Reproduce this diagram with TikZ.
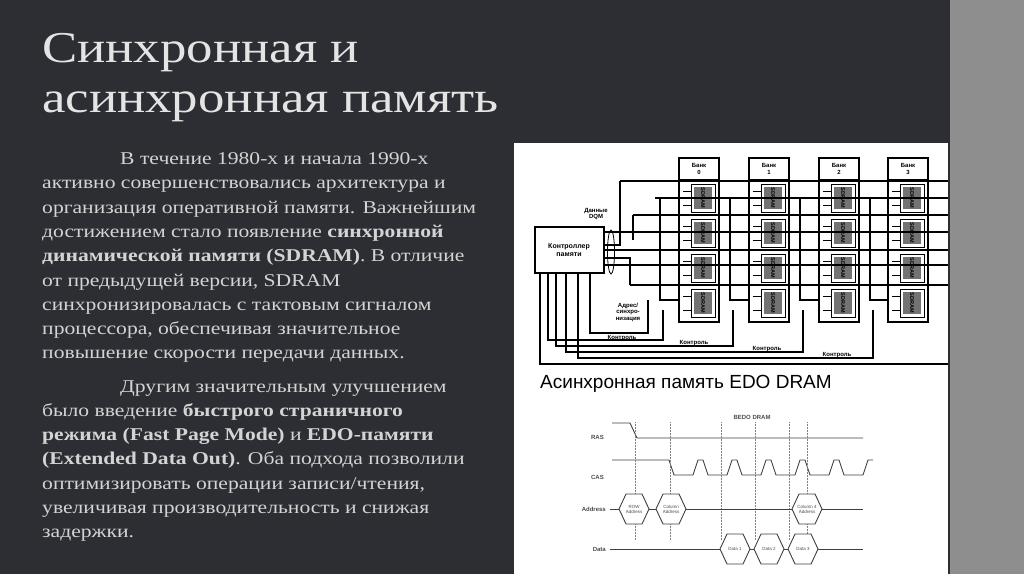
\documentclass[tikz,border=0pt]{standalone}
\usepackage{fontspec}
\setmainfont[FakeStretch=1.2]{Liberation Serif}
\newfontfamily\diagfont{Liberation Sans}
\begin{document}
\begin{tikzpicture}[x=1pt,y=-1pt,
  bodytxt/.style={anchor=base west,inner sep=0,text=body,font=\fontsize{18}{20}\selectfont},
  titletxt/.style={anchor=base west,inner sep=0,text=titlec,font=\fontsize{44}{48}\selectfont},
  wire/.style={line width=1.3pt,black},
  tiny/.style={font=\diagfont\bfseries\fontsize{6}{6.5}\selectfont,inner sep=0,align=center},
  sig/.style={line width=0.9pt,black!75},
  guide/.style={densely dotted,gray,line width=0.5pt},
  hexa/.style={sig}]
\definecolor{bg}{HTML}{2D2E33}
\definecolor{side}{HTML}{8E8E8E}
\definecolor{body}{HTML}{D4D4D4}
\definecolor{titlec}{HTML}{E4E4E4}
\useasboundingbox (0,0) rectangle (1024,574);
\fill[bg] (0,0) rectangle (1024,574);
\fill[side] (950,0) rectangle (1024,574);
% title
\node[titletxt] (t1) at (42,62) {Синхронная и};
\node[titletxt] (t2) at (42,112) {асинхронная память};
% body
\node[bodytxt] (b1) at (120,164) {В течение 1980-х и начала 1990-х};
\node[bodytxt] (b2) at (42,188) {активно совершенствовались архитектура и};
\node[bodytxt] (b3) at (42,213) {организация оперативной памяти. Важнейшим};
\node[bodytxt] (b4) at (42,237) {достижением стало появление \textbf{синхронной}};
\node[bodytxt] (b5) at (42,261) {\textbf{динамической памяти (SDRAM)}. В отличие};
\node[bodytxt] (b6) at (42,286) {от предыдущей версии, SDRAM};
\node[bodytxt] (b7) at (42,310) {синхронизировалась с тактовым сигналом};
\node[bodytxt] (b8) at (42,334) {процессора, обеспечивая значительное};
\node[bodytxt] (b9) at (42,358) {повышение скорости передачи данных.};
\node[bodytxt] (c1) at (120,392) {Другим значительным улучшением};
\node[bodytxt] (c2) at (42,416) {было введение \textbf{быстрого страничного}};
\node[bodytxt] (c3) at (42,440) {\textbf{режима (Fast Page Mode)} и \textbf{EDO-памяти}};
\node[bodytxt] (c4) at (42,464) {\textbf{(Extended Data Out)}. Оба подхода позволили};
\node[bodytxt] (c5) at (42,489) {оптимизировать операции записи/чтения,};
\node[bodytxt] (c6) at (42,513) {увеличивая производительность и снижая};
\node[bodytxt] (c7) at (42,537) {задержки.};
% white picture
\fill[white] (514,143) rectangle (948,574);
% ---- bus diagram
\draw[wire] (535,227) rectangle (604,273);
\node[tiny,font=\diagfont\bfseries\fontsize{7}{8}\selectfont] (ctl) at (569,250) {Контроллер\\памяти};
\draw[line width=0.8pt] (611,252) ellipse (3.5 and 22);
\node[tiny] (dqm) at (596,214) {Данные\\DQM};
\node[tiny] (adr) at (628,312) {Адрес/\\синхро-\\низация};
\foreach \bx/\n in {679/0,749/1,819/2,888/3}{
  \draw[wire] (\bx,158) -- (\bx,322) -- (\bx+40,322) -- (\bx+40,158) -- cycle;
  \draw[wire] (\bx,180) -- (\bx+40,180);
  \node[tiny] (bank\n) at (\bx+20,169) {Банк\\\n};
  \foreach \cy in {184,219,254,289}{
    \draw[line width=0.8pt] (\bx+12,\cy) rectangle (\bx+36,\cy+28);
    \fill[black!55] (\bx+15,\cy+3) rectangle (\bx+33,\cy+25);
    \node[tiny,rotate=-90,text=black,font=\diagfont\bfseries\fontsize{5.5}{6}\selectfont] at (\bx+24,\cy+14) {SDRAM};
    \draw[line width=0.8pt] (\bx+12,\cy+7) -- (\bx+4,\cy+7) (\bx+12,\cy+21) -- (\bx+4,\cy+21);
  }
}
% horizontal buses
\foreach \yy/\xs in {181/620,198/655,215/633,232/604,250/604,265/604,285/630}{
  \draw[wire] (\xs,\yy) -- (948,\yy);
}
\draw[wire] (620,181) -- (620,245) -- (604,245);
\draw[wire] (633,215) -- (633,240);
\draw[wire] (630,285) -- (630,258) -- (604,258);
\foreach \vx in {660,730,800,870}{
  \draw[wire] (\vx,198) -- (\vx,300) -- (\vx+19,300);
}
% control lines
\foreach \cx/\cyv/\ex in {548/340/663,556/346/733,566/352/803,578/358/873}{
  \draw[wire] (\cx,273) -- (\cx,\cyv) -- (\ex,\cyv) -- (\ex,310);
}
\draw[wire] (540,273) -- (540,364) -- (948,364);
\draw[wire] (590,273) -- (590,333) -- (648,333) -- (648,300);
\node[tiny] (k1) at (622,338) {Контроль};
\node[tiny] (k2) at (694,343) {Контроль};
\node[tiny] (k3) at (767,349) {Контроль};
\node[tiny] (k4) at (837,355) {Контроль};
\node[anchor=base west,inner sep=0,font=\diagfont\fontsize{19}{20}\selectfont] (cap) at (540,388) {Асинхронная память EDO DRAM};
% ---- timing
\node[tiny,text=black!70] (bedo) at (752,417) {BEDO DRAM};
\node[tiny,text=black!70,anchor=east] (ras) at (604,437) {RAS};
\node[tiny,text=black!70,anchor=east] (cas) at (604,477) {CAS};
\node[tiny,text=black!70,anchor=east] (adl) at (606,509) {Address};
\node[tiny,text=black!70,anchor=east] (dal) at (606,549) {Data};
\draw[sig] (612,423) -- (630,423) -- (637,438) -- (863,438);
\draw[sig] (612,460) -- (669,460)
  \foreach \k in {0,...,5}{ -- ++(5,15) -- ++(19,0) -- ++(5,-15) -- ++(5,0) } ;
\foreach \gx in {635,670,721,755,789,807}{
  \draw[guide] (\gx,422) -- (\gx,540);
}
\draw[sig] (610,509) -- (863,509);
\draw[sig] (610,549) -- (863,549);
\foreach \hx/\hy/\txt in {634/509/{ROW\\Address},671/509/{Column\\Address},807/509/{Column 4\\Address},735/549/{Data 1},769/549/{Data 2},803/549/{Data 3}}{
  \fill[white] (\hx-15,\hy) -- (\hx-8,\hy-15) -- (\hx+8,\hy-15) -- (\hx+15,\hy) -- (\hx+8,\hy+15) -- (\hx-8,\hy+15) -- cycle;
  \draw[hexa] (\hx-15,\hy) -- (\hx-8,\hy-15) -- (\hx+8,\hy-15) -- (\hx+15,\hy) -- (\hx+8,\hy+15) -- (\hx-8,\hy+15) -- cycle;
  \node[font=\diagfont\fontsize{4.5}{5}\selectfont,text=black!70,align=center,inner sep=0] at (\hx,\hy) {\txt};
}
\end{tikzpicture}
\end{document}
